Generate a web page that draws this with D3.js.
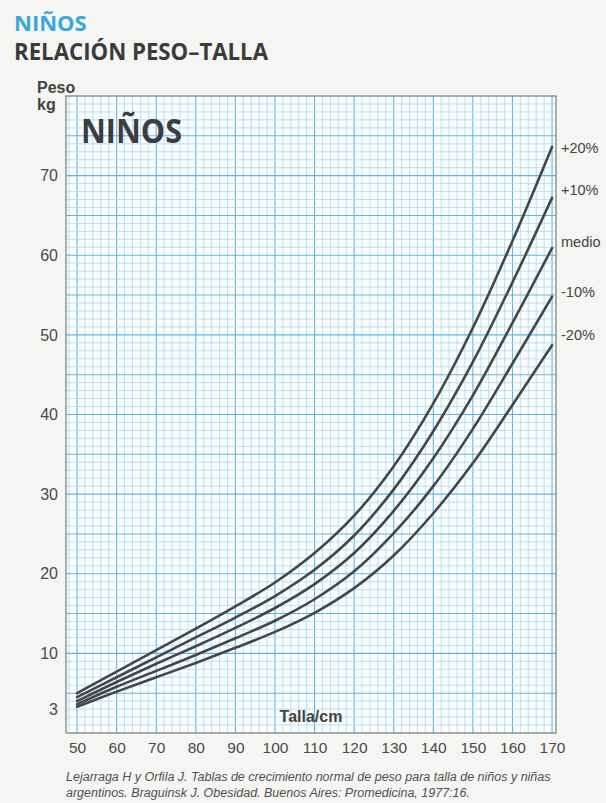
<!DOCTYPE html>
<html>
<head>
<meta charset="utf-8">
<script src="https://cdn.jsdelivr.net/npm/d3@7/dist/d3.min.js"></script>
<style>
  html, body { margin: 0; padding: 0; background: #f5f5f3; }
  svg { display: block; }
</style>
</head>
<body>
<svg id="chart" width="606" height="803"></svg>
<script>
// Height (cm) at which each curve is sampled
const talla = [50, 60, 70, 80, 90, 100, 110, 120, 130, 140, 150, 160, 170];

// Weight (kg) for each curve
const pesoMas20   = [5.0, 7.7, 10.4, 13.1, 15.9, 18.9, 22.6, 27.3, 33.5, 41.4, 50.9, 61.8, 73.6];
const pesoMas10   = [4.5, 7.0, 9.5, 12.0, 14.5, 17.2, 20.5, 24.8, 30.6, 37.9, 46.6, 56.6, 67.2];
const pesoMedio   = [4.0, 6.4, 8.7, 10.9, 13.2, 15.7, 18.7, 22.6, 27.9, 34.5, 42.4, 51.5, 60.9];
const pesoMenos10 = [3.6, 5.8, 7.8, 9.8, 11.9, 14.1, 16.8, 20.3, 25.1, 31.0, 38.2, 46.4, 54.8];
const pesoMenos20 = [3.3, 5.2, 7.0, 8.8, 10.7, 12.7, 15.1, 18.2, 22.3, 27.6, 33.9, 41.2, 48.7];

const curveNames = ["+20%", "+10%", "medio", "-10%", "-20%"];
const curveValues = [pesoMas20, pesoMas10, pesoMedio, pesoMenos10, pesoMenos20];

const xTicks = [50, 60, 70, 80, 90, 100, 110, 120, 130, 140, 150, 160, 170];
const yTicks = [3, 10, 20, 30, 40, 50, 60, 70];

const svg = d3.select("#chart");

const plot = { left: 66, right: 556, top: 96, bottom: 733 };

const x = d3.scaleLinear().domain([47.2, 171]).range([plot.left, plot.right]);
const y = d3.scaleLinear().domain([0, 80]).range([plot.bottom, plot.top]);

// Headings
svg.append("text")
  .attr("x", 14).attr("y", 31)
  .attr("font-family", "'Open Sans', sans-serif")
  .attr("font-weight", 700).attr("font-size", 22)
  .attr("fill", "#39a7de")
  .text("NIÑOS");

svg.append("text")
  .attr("x", 14).attr("y", 60)
  .attr("font-family", "'Open Sans', sans-serif")
  .attr("font-weight", 700).attr("font-size", 23)
  .attr("fill", "#3b3b3b")
  .attr("textLength", 254).attr("lengthAdjust", "spacingAndGlyphs")
  .text("RELACIÓN PESO–TALLA");

// Plot background
svg.append("rect")
  .attr("x", plot.left).attr("y", plot.top)
  .attr("width", plot.right - plot.left).attr("height", plot.bottom - plot.top)
  .attr("fill", "#fbfdfe");

// Graph-paper grid: fine lines every 2 cm / 1 kg, stronger every 10 cm / 5 kg
const grid = svg.append("g");
const vLines = d3.range(48, 171, 2);
grid.selectAll("line.v").data(vLines).join("line")
  .attr("x1", d => x(d)).attr("x2", d => x(d))
  .attr("y1", plot.top).attr("y2", plot.bottom)
  .attr("stroke", d => d % 10 === 0 ? "#5db7e5" : "#afdcf2")
  .attr("stroke-width", d => d % 10 === 0 ? 1.1 : 0.85);

const hLines = d3.range(1, 80, 1);
grid.selectAll("line.h").data(hLines).join("line")
  .attr("x1", plot.left).attr("x2", plot.right)
  .attr("y1", d => y(d)).attr("y2", d => y(d))
  .attr("stroke", d => d % 5 === 0 ? "#5db7e5" : "#afdcf2")
  .attr("stroke-width", d => d % 5 === 0 ? 1.1 : 0.85);

// Frame
svg.append("rect")
  .attr("x", plot.left).attr("y", plot.top)
  .attr("width", plot.right - plot.left).attr("height", plot.bottom - plot.top)
  .attr("fill", "none").attr("stroke", "#7a7a7a").attr("stroke-width", 1.2);

// Axes (labels only)
const xAxis = svg.append("g")
  .attr("transform", `translate(0,${plot.bottom})`)
  .call(d3.axisBottom(x).tickValues(xTicks).tickSize(0).tickPadding(9));
xAxis.select(".domain").remove();
xAxis.selectAll("text")
  .attr("font-family", "'Liberation Sans', Arial, sans-serif")
  .attr("font-size", 15.5).attr("fill", "#4a4a4a");

const yAxis = svg.append("g")
  .attr("transform", `translate(${plot.left},0)`)
  .call(d3.axisLeft(y).tickValues(yTicks).tickSize(0).tickPadding(8));
yAxis.select(".domain").remove();
yAxis.selectAll("text")
  .attr("font-family", "'Liberation Sans', Arial, sans-serif")
  .attr("font-size", 16).attr("fill", "#4a4a4a");

// Axis titles
svg.append("text")
  .attr("x", 37).attr("y", 93)
  .attr("font-family", "'Liberation Sans', Arial, sans-serif")
  .attr("font-weight", 700).attr("font-size", 16).attr("fill", "#424242")
  .text("Peso");
svg.append("text")
  .attr("x", 37).attr("y", 110)
  .attr("font-family", "'Liberation Sans', Arial, sans-serif")
  .attr("font-weight", 700).attr("font-size", 16).attr("fill", "#424242")
  .text("kg");

svg.append("text")
  .attr("x", 311).attr("y", 722)
  .attr("text-anchor", "middle")
  .attr("font-family", "'Liberation Sans', Arial, sans-serif")
  .attr("font-weight", 700).attr("font-size", 16).attr("fill", "#424242")
  .text("Talla/cm");

// Big label inside the plot
svg.append("text")
  .attr("x", 81).attr("y", 143)
  .attr("font-family", "'Open Sans', sans-serif")
  .attr("font-weight", 700).attr("font-size", 34)
  .attr("fill", "#3d3d3f")
  .attr("textLength", 101).attr("lengthAdjust", "spacingAndGlyphs")
  .text("NIÑOS");

// Curves
const line = d3.line()
  .x((d, i) => x(talla[i]))
  .y(d => y(d))
  .curve(d3.curveCatmullRom.alpha(0.5));

svg.append("g").selectAll("path").data(curveValues).join("path")
  .attr("d", d => line(d))
  .attr("fill", "none")
  .attr("stroke", "#464646")
  .attr("stroke-width", 2.6)
  .attr("stroke-linecap", "round");

// Curve labels to the right of the plot, nudged vertically from each curve's end
const labelNudge = [1, -8, -6, -5, -10];
svg.append("g").selectAll("text").data(curveNames).join("text")
  .attr("x", 561)
  .attr("y", (d, i) => y(curveValues[i][curveValues[i].length - 1]) + labelNudge[i])
  .attr("dy", "0.35em")
  .attr("font-family", "'Liberation Sans', Arial, sans-serif")
  .attr("font-size", 14.5).attr("fill", "#444")
  .text(d => d);

// Source note
const note = svg.append("text")
  .attr("font-family", "'Liberation Sans', Arial, sans-serif")
  .attr("font-style", "italic").attr("font-size", 12.5).attr("fill", "#505050");
note.append("tspan").attr("x", 66).attr("y", 781)
  .text("Lejarraga H y Orfila J. Tablas de crecimiento normal de peso para talla de niños y niñas");
note.append("tspan").attr("x", 66).attr("y", 797)
  .text("argentinos. Braguinsk J. Obesidad. Buenos Aires: Promedicina, 1977:16.");
</script>
</body>
</html>
